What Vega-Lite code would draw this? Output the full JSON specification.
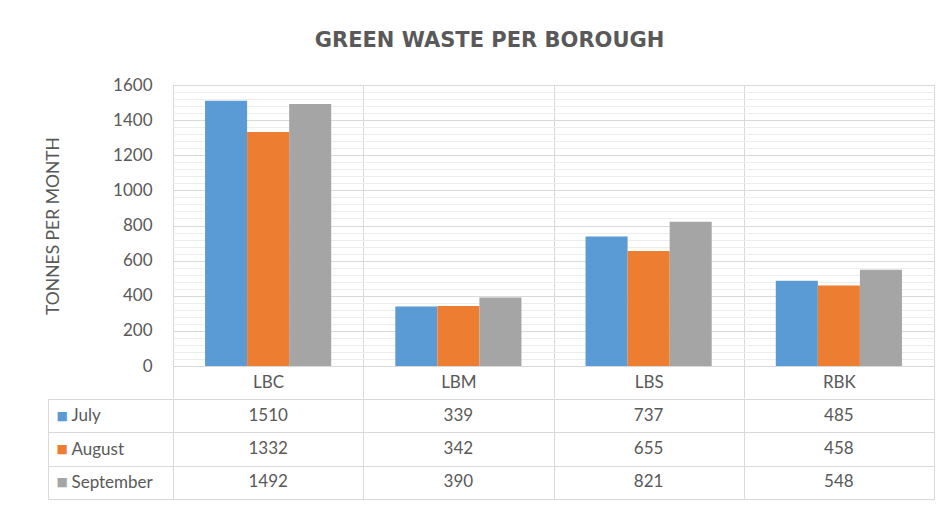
{
  "$schema": "https://vega.github.io/schema/vega-lite/v6.json",
  "padding": {"left": 44, "top": 29, "right": 8, "bottom": 9},
  "background": "white",
  "title": {"text": "GREEN WASTE PER BOROUGH", "font": "DejaVu Sans", "fontSize": 21, "fontWeight": "bold", "color": "#595959", "anchor": "middle", "frame": "bounds", "offset": 25},
  "data": {"values": [
    {"borough": "LBC", "month": "July", "tonnes": 1510},
    {"borough": "LBC", "month": "August", "tonnes": 1332},
    {"borough": "LBC", "month": "September", "tonnes": 1492},
    {"borough": "LBM", "month": "July", "tonnes": 339},
    {"borough": "LBM", "month": "August", "tonnes": 342},
    {"borough": "LBM", "month": "September", "tonnes": 390},
    {"borough": "LBS", "month": "July", "tonnes": 737},
    {"borough": "LBS", "month": "August", "tonnes": 655},
    {"borough": "LBS", "month": "September", "tonnes": 821},
    {"borough": "RBK", "month": "July", "tonnes": 485},
    {"borough": "RBK", "month": "August", "tonnes": 458},
    {"borough": "RBK", "month": "September", "tonnes": 548}
  ]},
  "spacing": -11,
  "vconcat": [
    {
      "width": 761,
      "height": 281,
      "mark": {"type": "bar"},
      "encoding": {
        "x": {"field": "borough", "type": "nominal", "sort": ["LBC", "LBM", "LBS", "RBK"],
          "scale": {"paddingInner": 0, "paddingOuter": 0},
          "axis": {"title": null, "labelAngle": 0, "grid": true, "tickBand": "extent", "gridColor": "#D9D9D9",
            "ticks": true, "tickSize": 32, "tickColor": "#D9D9D9", "domain": true, "domainColor": "#D9D9D9",
            "labelPadding": -16, "labelBaseline": "middle", "labelFont": "Lato", "labelFontSize": 17, "labelColor": "#595959",
            "minExtent": 0, "maxExtent": 32}},
        "xOffset": {"field": "month", "type": "nominal", "sort": ["July", "August", "September"],
          "scale": {"paddingInner": 0, "paddingOuter": 0.762}},
        "y": {"field": "tonnes", "type": "quantitative",
          "scale": {"domain": [0, 1600], "nice": false},
          "axis": {"title": "TONNES PER MONTH", "titleFont": "Lato", "titleFontSize": 17.5, "titleFontWeight": "normal", "titleColor": "#595959", "titlePadding": 50,
            "values": [0,40,80,120,160,200,240,280,320,360,400,440,480,520,560,600,640,680,720,760,800,840,880,920,960,1000,1040,1080,1120,1160,1200,1240,1280,1320,1360,1400,1440,1480,1520,1560,1600],
            "format": "d",
            "labelExpr": "datum.value % 200 === 0 ? datum.label : ''",
            "labelFont": "Lato", "labelFontSize": 17, "labelColor": "#595959", "labelPadding": 21,
            "ticks": false, "tickSize": 0, "domain": false, "grid": true,
            "gridColor": {"condition": {"test": "datum.value % 200 === 0", "value": "#D9D9D9"}, "value": "#EDEDED"}}},
        "color": {"field": "month", "type": "nominal", "sort": ["July", "August", "September"],
          "scale": {"domain": ["July", "August", "September"], "range": ["#5B9BD5", "#ED7D31", "#A5A5A5"]},
          "legend": null}
      }
    },
    {
      "width": 761,
      "height": 100,
      "layer": [
        {
          "mark": {"type": "text", "font": "Lato", "fontSize": 17, "color": "#595959"},
          "encoding": {
            "x": {"field": "borough", "type": "nominal", "sort": ["LBC", "LBM", "LBS", "RBK"],
              "scale": {"paddingInner": 0, "paddingOuter": 0},
              "axis": {"orient": "top", "title": null, "labels": false, "ticks": false, "domain": false,
                "grid": true, "tickBand": "extent", "gridColor": "#D9D9D9", "minExtent": 0, "maxExtent": 0}},
            "y": {"field": "month", "type": "nominal", "sort": ["July", "August", "September"],
              "scale": {"paddingInner": 0, "paddingOuter": 0},
              "axis": {"orient": "left", "title": null, "grid": true, "tickBand": "extent", "gridColor": "#D9D9D9",
                "ticks": true, "tickSize": 125, "tickColor": "#D9D9D9", "domain": true, "domainColor": "#D9D9D9",
                "labelAlign": "left", "labelPadding": -23, "labelBaseline": "middle",
                "labelFont": "Lato", "labelFontSize": 17, "labelColor": "#595959"}},
            "text": {"field": "tonnes", "type": "quantitative", "format": "d"}
          }
        },
        {
          "mark": {"type": "text", "text": ""},
          "encoding": {
            "y": {"field": "month", "type": "nominal", "sort": ["July", "August", "September"],
              "axis": {"orient": "left", "offset": 125, "title": null, "grid": false, "ticks": false, "tickSize": 0,
                "domain": true, "domainColor": "#D9D9D9",
                "labelExpr": "'■'", "labelAlign": "left", "labelPadding": -8, "labelBaseline": "middle",
                "labelFont": "DejaVu Sans", "labelFontSize": 12,
                "labelColor": {"condition": [
                  {"test": "datum.value === 'July'", "value": "#5B9BD5"},
                  {"test": "datum.value === 'August'", "value": "#ED7D31"}
                ], "value": "#A5A5A5"}}}
          }
        }
      ],
      "resolve": {"axis": {"y": "independent"}}
    }
  ],
  "config": {
    "view": {"stroke": "#D9D9D9"},
    "font": "Lato"
  }
}
